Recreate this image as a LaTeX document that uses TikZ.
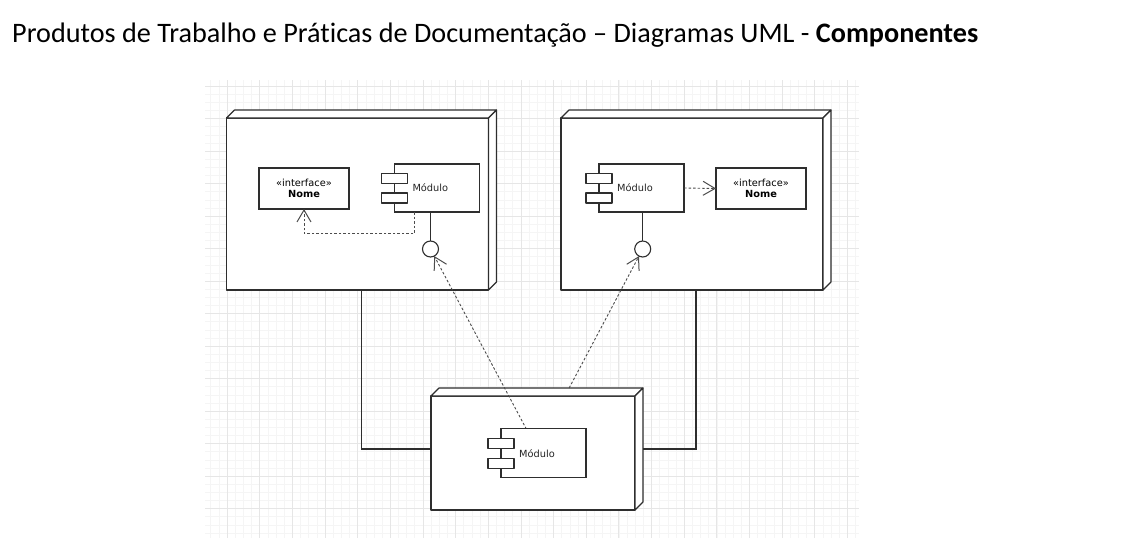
\documentclass[tikz,border=0pt]{standalone}
\usepackage{fontspec}
\setmainfont{Carlito}[Ligatures=NoCommon]
\newfontfamily\djfont{DejaVu Sans}
\usetikzlibrary{arrows.meta,calc}
\definecolor{lncol}{HTML}{2E2E2E}
\definecolor{gridmaj}{HTML}{E6E6E6}
\definecolor{gridmin}{HTML}{F5F5F5}
\tikzset{
  line/.style={draw=lncol,line width=1.1pt},
  boxface/.style={draw=lncol,line width=1.1pt,fill=white,line join=round},
  bbox/.style={rectangle,draw=none,inner sep=0pt,outer sep=0pt},
  ifbox/.style={rectangle,draw=lncol,line width=1.1pt,fill=white,inner sep=0pt,outer sep=0pt,
    minimum width=90pt,minimum height=41pt,align=center,
    font=\djfont\fontsize{9.8}{11.3}\selectfont},
  modbox/.style={rectangle,draw=lncol,line width=1.1pt,fill=white,inner sep=0pt,outer sep=0pt,
    minimum width=85pt,minimum height=48pt},
  modtext/.style={anchor=west,inner sep=0pt,font=\djfont\fontsize{9.8}{11}\selectfont,text=black!85},
  lolli/.style={circle,draw=lncol,line width=1.1pt,fill=white,inner sep=0pt,outer sep=0pt,minimum size=16pt},
  dep/.style={draw=black!70,line width=0.9pt,dash pattern=on 2.5pt off 2pt,
    -{Straight Barb[length=12pt,width=14pt,line width=1pt]}},
}
\newcommand\udface[1]{%
  \filldraw[boxface] ($(#1.north west)+(0,8)$) rectangle ($(#1.south east)+(-8,0)$);
  \filldraw[boxface] ($(#1.north west)+(0,8)$) -- ($(#1.north west)+(8,0)$) -- (#1.north east) -- ($(#1.north east)+(-8,8)$) -- cycle;
  \filldraw[boxface] ($(#1.north east)+(-8,8)$) -- (#1.north east) -- ($(#1.south east)+(0,-8)$) -- ($(#1.south east)+(-8,0)$) -- cycle;
}
\newcommand\modparts[1]{%
  \draw[boxface] ($(#1.west)+(-13,-14.5)$) rectangle ++(26,10);
  \draw[boxface] ($(#1.west)+(-13,5)$) rectangle ++(26,10);
}
\begin{document}
\begin{tikzpicture}[x=1pt,y=-1pt]
\useasboundingbox (0,0) rectangle (1148,554);
\fill[white] (0,0) rectangle (1148,554);
% grid
\begin{scope}
\clip (205,80) rectangle (859,538);
\foreach \i in {-3,...,80} \draw[gridmin,line width=0.5pt] ({227+8.1625*\i},80) -- ++(0,458);
\foreach \i in {-1,...,57} \draw[gridmin,line width=0.5pt] (205,{86+8.125*\i}) -- ++(654,0);
\foreach \i in {-1,...,20} \draw[gridmaj,line width=0.7pt] ({227+32.65*\i},80) -- ++(0,458);
\foreach \i in {-1,...,15} \draw[gridmaj,line width=0.7pt] (205,{86+32.5*\i}) -- ++(654,0);
\end{scope}
% title
\node[anchor=base west,inner sep=0pt,font=\fontsize{28.2}{32}\selectfont] (title) at (12,42)
  {Produtos de Trabalho e Práticas de Documentação – Diagramas UML - \textbf{Componentes}};
% 3D nodes
\node[bbox,minimum width=270pt,minimum height=180pt] (L) at (361.5,200) {};
\node[bbox,minimum width=270pt,minimum height=180pt] (R) at (696,200) {};
\node[bbox,minimum width=212pt,minimum height=122pt] (B) at (537,449) {};
\udface{L}
\udface{R}
\udface{B}
% node-to-node links
\draw[line] (L.south) |- (B.west);
\draw[line] (R.south) |- (B.east);
% left node content
\node[ifbox] (ifL) at (304,188.5) {«interface»\\\textbf{Nome}};
\node[modbox] (modL) at (436.8,188) {};
\modparts{modL}
\node[modtext] (tL) at ($(modL.west)+(18,0)$) {Módulo};
\node[lolli] (lolL) at (430.5,249) {};
\draw[line] (lolL |- modL.south) -- (lolL);
\draw[dep] ($(modL.south)+(-22.5,0)$) -- ++(0,21.5) -| (ifL.south);
% right node content
\node[modbox] (modR) at (641.5,188) {};
\modparts{modR}
\node[modtext] (tR) at ($(modR.west)+(18,0)$) {Módulo};
\node[ifbox] (ifR) at (761,188.5) {«interface»\\\textbf{Nome}};
\node[lolli] (lolR) at (642.7,249) {};
\draw[line] (lolR |- modR.south) -- (lolR);
\draw[dep] (modR.east) -- (ifR.west);
% dashed links from bottom node
\draw[dep] (B.center) -- (lolL);
\draw[dep] (B) -- (lolR);
% bottom module
\node[modbox,minimum height=49pt] (modB) at (543.5,453.2) {};
\modparts{modB}
\node[modtext] (tB) at ($(modB.west)+(18,0)$) {Módulo};
\end{tikzpicture}
\end{document}
